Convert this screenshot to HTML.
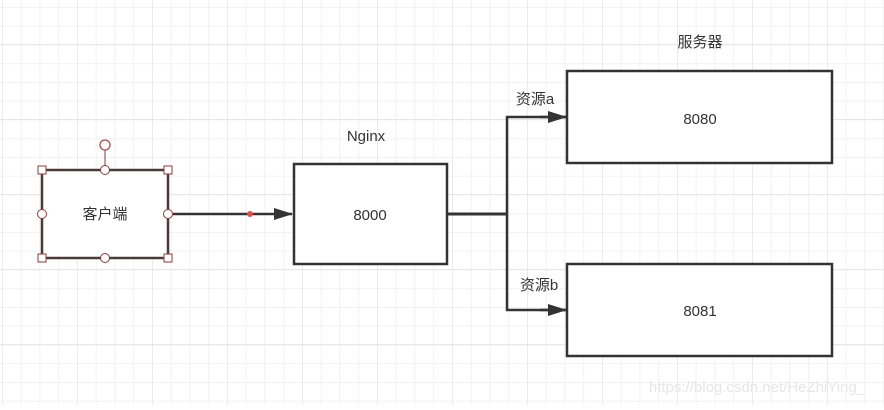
<!DOCTYPE html>
<html><head><meta charset="utf-8"><style>
html,body{margin:0;padding:0;background:#fff;}
svg text{font-family:"Liberation Sans","Noto Sans CJK SC",sans-serif;fill:#333;}
</style></head><body>
<svg width="884" height="405" xmlns="http://www.w3.org/2000/svg">
<defs>
<pattern id="minor" x="2" y="7" width="18.75" height="18.75" patternUnits="userSpaceOnUse">
<path d="M0 0V18.75M0 0H18.75" stroke="#eeeeee" stroke-width="1.5" fill="none"/>
</pattern>
<pattern id="major" x="2" y="44" width="75" height="75" patternUnits="userSpaceOnUse">
<path d="M0 0V75M0 0H75" stroke="#e0e0e0" stroke-width="1" fill="none"/>
</pattern>
<marker id="ar" markerWidth="20" markerHeight="12" refX="18" refY="6" orient="auto" markerUnits="userSpaceOnUse">
<path d="M0 0L19 6L0 12Z" fill="#333"/>
</marker>
</defs>
<rect width="884" height="405" fill="url(#minor)"/>
<rect width="884" height="405" fill="url(#major)"/>

<!-- client -->
<rect x="42" y="170" width="126" height="88" fill="#fff" stroke="#4a3a3a" stroke-width="2.5"/>
<text x="105" y="219" font-size="15" text-anchor="middle">客户端</text>
<line x1="105" y1="149" x2="105" y2="170" stroke="#8b3a3a" stroke-width="1"/>
<circle cx="105" cy="145" r="5" fill="#fff" stroke="#a05050" stroke-width="1.3"/>
<g fill="#fff" stroke="#8b3a3a" stroke-width="1">
<rect x="38" y="166" width="8" height="8"/><rect x="164" y="166" width="8" height="8"/>
<rect x="38" y="254" width="8" height="8"/><rect x="164" y="254" width="8" height="8"/>
<circle cx="105" cy="170" r="4.5"/><circle cx="105" cy="258" r="4.5"/>
<circle cx="42" cy="214" r="4.5"/><circle cx="168" cy="214" r="4.5"/>
</g>
<line x1="173" y1="214" x2="292" y2="214" stroke="#333" stroke-width="2.5" marker-end="url(#ar)"/>
<circle cx="250" cy="214" r="3" fill="#e05050"/>

<!-- nginx -->
<text x="366" y="141" font-size="15" text-anchor="middle">Nginx</text>
<rect x="294" y="164" width="153" height="100" fill="#fff" stroke="#333" stroke-width="2.5"/>
<text x="370" y="220" font-size="15" text-anchor="middle">8000</text>

<line x1="447" y1="214" x2="507" y2="214" stroke="#333" stroke-width="3"/>
<path d="M566 117H507V310H566" fill="none" stroke="#333" stroke-width="2.5"/>
<line x1="540" y1="117" x2="566" y2="117" stroke="#333" stroke-width="2.5" marker-end="url(#ar)"/>
<line x1="540" y1="310" x2="566" y2="310" stroke="#333" stroke-width="2.5" marker-end="url(#ar)"/>
<text x="535" y="104" font-size="15" text-anchor="middle">资源a</text>
<text x="539" y="290" font-size="15" text-anchor="middle">资源b</text>

<!-- servers -->
<text x="700" y="47" font-size="15" text-anchor="middle">服务器</text>
<rect x="567" y="71" width="265" height="92" fill="#fff" stroke="#333" stroke-width="2.5"/>
<text x="700" y="124" font-size="15" text-anchor="middle">8080</text>
<rect x="567" y="264" width="265" height="92" fill="#fff" stroke="#333" stroke-width="2.5"/>
<text x="700" y="316" font-size="15" text-anchor="middle">8081</text>

<text x="757" y="392" font-size="15" text-anchor="middle" style="fill:#e6e6e6">https://blog.csdn.net/HeZhiYing_</text>
</svg>
</body></html>
